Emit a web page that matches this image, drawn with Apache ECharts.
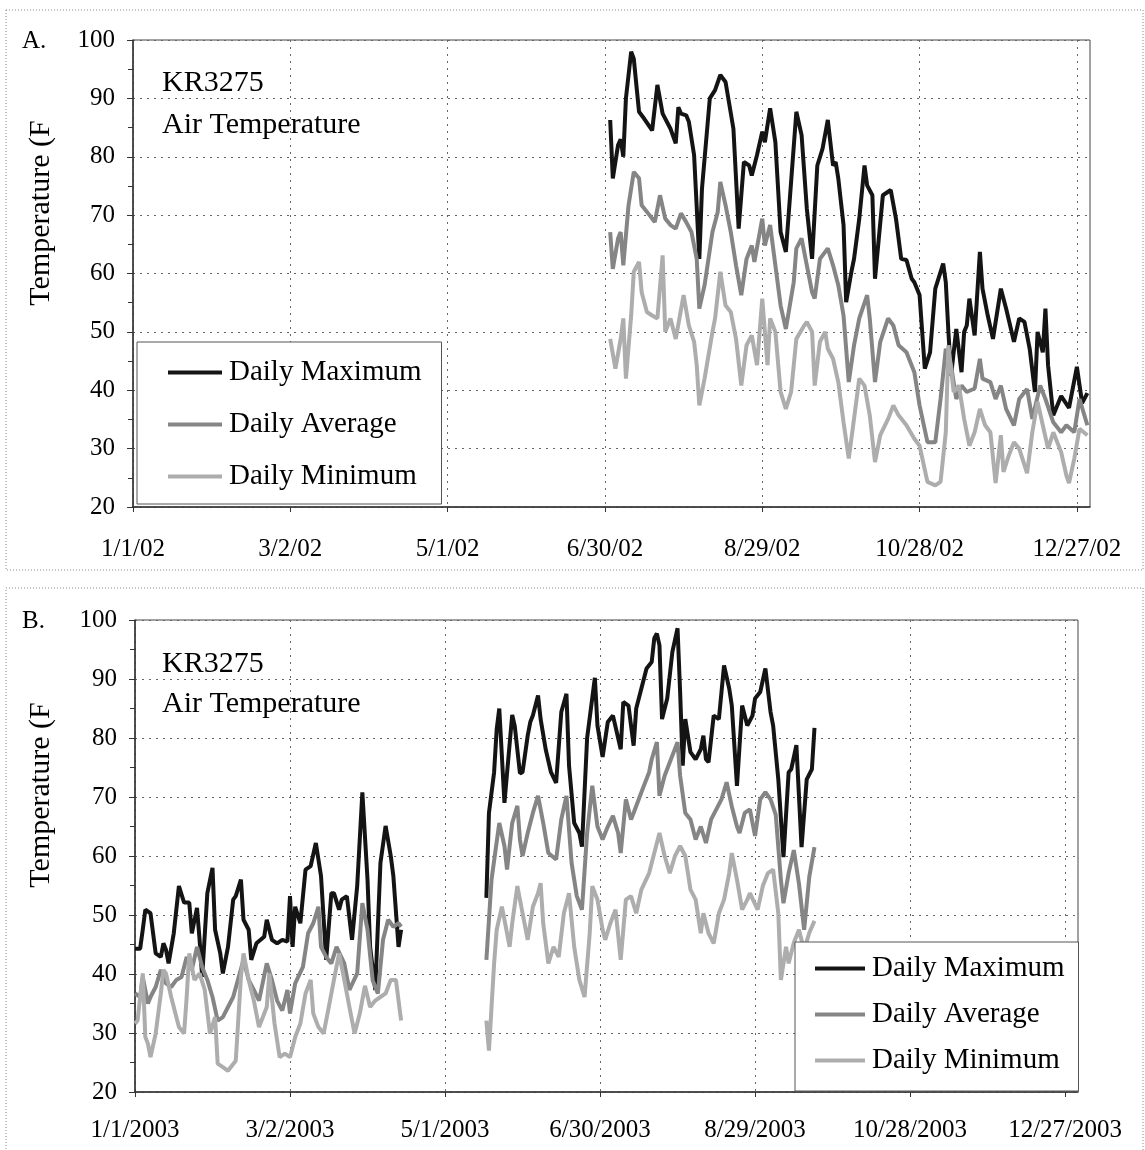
<!DOCTYPE html>
<html>
<head>
<meta charset="utf-8">
<script src="https://cdn.jsdelivr.net/npm/echarts@6/dist/echarts.min.js"></script>
<style>
  html, body { margin: 0; padding: 0; background: #fff; }
  #chart { width: 1145px; height: 1150px; }
</style>
</head>
<body>
<div id="chart"></div>
<script>
// day offsets from Jan 1 of each year, temperature in F
const seriesNames = ['Daily Maximum', 'Daily Average', 'Daily Minimum'];
const ticksA = ['1/1/02', '3/2/02', '5/1/02', '6/30/02', '8/29/02', '10/28/02', '12/27/02'];
const ticksB = ['1/1/2003', '3/2/2003', '5/1/2003', '6/30/2003', '8/29/2003', '10/28/2003', '12/27/2003'];

// A. 2002
const maxA = [[182,86.3],[183,76.3],[185,82],[186,83],[187,80],[188,90],[190,98],[191,96.8],[193,87.7],[195,86.5],[198,84.5],[200,92.3],[202,87.4],[205,84.8],[207,82.3],[208,88.5],[209,87.4],[211,87.1],[212,86],[214,80.3],[216,62.5],[217,74.5],[220,90],[222,91.4],[224,94],[226,92.8],[229,84.8],[231,67.7],[233,79.1],[235,78.5],[236,76.8],[238,80.3],[240,84.3],[241,82.5],[243,88.3],[245,82.5],[247,67.1],[249,63.7],[251,75.7],[253,87.7],[255,83.7],[257,71.1],[259,62.5],[261,78.5],[263,81.4],[265,86.3],[267,78.5],[268,79.1],[269,76.3],[271,68.3],[272,55.1],[274,60.3],[275,62.5],[277,69.4],[279,78.5],[280,75.1],[282,73.4],[283,59.1],[286,73.4],[288,74],[289,74.3],[291,69.4],[293,62.5],[295,62.3],[297,59.1],[298,58.5],[300,56.3],[302,43.7],[304,46.5],[306,57.4],[309,61.7],[310,58.5],[311,50],[312,42.5],[314,50.5],[316,43.1],[317,50],[318,51.1],[319,55.7],[321,49.4],[323,63.7],[324,57.4],[326,52.8],[328,48.8],[331,57.4],[333,54],[336,48.3],[338,52.3],[340,51.7],[342,47.1],[344,39.7],[345,50],[347,46.5],[348,54],[349,44.3],[351,35.7],[354,39],[357,37],[360,44],[362,37.8],[364,39.5]];
const avgA = [[182,67.1],[183,60.8],[185,66],[186,67.1],[187,61.4],[189,71.7],[191,77.4],[193,76.3],[194,71.7],[197,70],[199,68.8],[201,73.4],[203,69.4],[205,68.3],[207,67.7],[209,70.3],[211,68.8],[213,67.1],[215,62.5],[216,54],[218,58],[221,67.1],[223,70.5],[224,75.7],[226,71.7],[228,67.1],[230,61.4],[232,56.3],[234,62.5],[236,64.8],[237,62],[240,69.4],[241,64.8],[243,68.3],[245,61.4],[247,54.5],[249,50.5],[252,58.5],[253,64.3],[255,66],[257,61.4],[259,56.8],[260,55.7],[262,62.5],[264,63.7],[265,64.3],[267,61.4],[269,58],[271,52.8],[273,41.4],[275,47.7],[277,52.3],[280,56.3],[281,52.3],[283,41.4],[285,48.3],[288,52.3],[290,51.1],[292,47.7],[295,46.5],[298,43.1],[300,37.4],[303,31.1],[306,31.1],[308,38.5],[310,47.1],[312,44.3],[314,38.5],[316,40.8],[318,39.7],[321,40.3],[323,45.4],[324,42],[327,41.4],[329,38.5],[331,40.8],[333,36.8],[336,34],[338,38.5],[341,40.2],[343,35.1],[346,40.8],[348,38.5],[351,34.5],[354,32.8],[356,34],[359,32.8],[361,38.5],[364,34]];
const minA = [[182,48.8],[184,43.7],[186,48.8],[187,52.3],[188,42],[190,52.8],[191,60.3],[193,62],[194,56.8],[196,53.4],[198,52.8],[200,52.3],[202,63.1],[203,50],[205,52.3],[207,48.8],[210,56.3],[212,51.1],[214,48.3],[215,44.3],[216,37.4],[218,42],[221,50],[222,52.3],[224,60.3],[226,54.5],[228,53.4],[230,48.8],[232,40.8],[234,47.7],[236,49.4],[238,44.3],[240,55.7],[242,44.3],[243,52.3],[245,50],[247,39.7],[249,36.8],[251,39.7],[253,48.8],[256,51.1],[257,51.7],[259,50],[260,40.8],[262,48.3],[264,50],[265,47.1],[267,45.4],[269,41.4],[271,34.5],[273,28.3],[275,35.1],[277,42],[279,40.8],[281,35.7],[283,27.7],[285,32.3],[288,35.1],[290,37.4],[292,35.7],[295,34],[298,31.7],[300,30.5],[303,24.3],[306,23.7],[308,24.3],[310,32.8],[311,47.7],[313,39.7],[315,40.8],[317,35.1],[319,30.5],[321,32.8],[323,36.8],[325,34],[327,32.8],[329,24.1],[331,32.3],[332,26],[334,28.8],[336,31.1],[338,30],[341,25.8],[343,32.8],[345,38],[347,34],[349,30],[351,32.8],[354,29.4],[356,25.4],[357,24.1],[359,28.3],[361,33.4],[364,32.3]];

// B. 2003 (two logging periods)
const maxB1 = [[0,44.3],[2,44.3],[3,47.5],[4,50.9],[6,50.3],[7,46.9],[8,43.5],[10,42.9],[11,45.2],[12,44.1],[13,41.8],[15,46.9],[17,54.9],[19,52.1],[21,52.1],[22,46.9],[24,51.2],[25,45.8],[26,39.5],[28,53.7],[30,58],[31,47.5],[33,43.5],[34,40.1],[36,44.6],[38,52.6],[39,53.2],[41,56],[42,49.2],[44,47.5],[45,42.4],[47,45.2],[50,46.3],[51,49.2],[53,45.8],[55,45.2],[57,45.8],[59,45.5],[60,53.2],[61,44.6],[62,51.4],[64,48.6],[66,57.7],[68,58.3],[70,62.2],[72,56.6],[74,42.4],[76,53.7],[77,53.7],[79,50.9],[80,52.6],[82,53.2],[84,45.8],[86,54.9],[88,70.8],[90,56],[91,44.6],[93,37.3],[95,58.8],[97,65.1],[99,60],[100,56.6],[102,44.6],[103,47.5]];
const maxB2 = [[136,52.9],[137,67.3],[139,74.2],[140,81.5],[141,85],[143,69],[144,74],[146,83.9],[147,82],[149,74],[150,74.2],[152,80.4],[153,82.7],[154,83.8],[156,87.2],[157,83.2],[159,78],[161,74.2],[163,72.4],[165,84.4],[167,87.5],[168,75.3],[170,65.6],[172,63.9],[173,61.6],[175,80],[178,90.2],[179,82.1],[181,76.8],[183,82.7],[185,83.8],[188,78.1],[189,86.1],[191,85.5],[193,78.7],[194,85],[196,88.4],[198,91.8],[200,92.9],[201,96.9],[202,97.7],[203,95.7],[204,83.2],[206,86.7],[208,94.6],[210,98.6],[211,87.8],[212,75.3],[213,83.2],[215,77.6],[217,76.4],[219,78.1],[220,80.4],[221,76.4],[222,75.9],[224,83.8],[226,83.2],[228,92.3],[230,88.4],[231,85.5],[233,71.9],[235,85.5],[237,82.1],[239,83.8],[240,86.7],[242,87.8],[244,91.8],[246,84.4],[247,82.1],[249,73],[251,59.8],[253,74.2],[254,74.7],[256,78.8],[258,61.5],[260,73],[262,74.7],[263,81.7]];
const avgB1 = [[0,36.7],[2,36.1],[3,39.5],[5,35],[6,36.1],[8,37.8],[10,40.7],[12,38.4],[14,37.8],[16,39],[18,39.5],[20,42.9],[22,40.7],[24,44.6],[26,41.2],[28,39],[30,36.1],[32,32.1],[34,32.7],[36,34.4],[38,36.1],[42,42.4],[44,39],[46,37.3],[48,35.5],[51,41.8],[53,39],[55,35.5],[57,33.8],[59,37.3],[60,33.3],[62,38.4],[65,41.2],[67,46.9],[69,48.6],[71,51.4],[72,44.6],[74,42.9],[76,41.8],[78,44.6],[81,41.8],[83,37.3],[86,40.1],[88,52],[90,47.5],[92,38.9],[94,36.7],[96,45.8],[98,49.2],[100,48],[102,48.6],[103,48]];
const avgB2 = [[136,42.4],[138,56],[141,65.6],[143,61.7],[144,57.7],[146,65.6],[148,68.5],[149,62.8],[150,60],[152,63.9],[154,67.3],[156,70.2],[158,65.6],[160,60.5],[163,59.4],[165,66.2],[167,70.2],[169,58.8],[171,53.2],[173,50.9],[175,63.9],[177,71.9],[179,65],[181,62.8],[183,65],[185,66.8],[187,63.9],[188,60.5],[190,69.6],[192,66.2],[193,67.3],[196,70.8],[199,74.2],[200,76.4],[202,79.3],[203,70.2],[205,73.6],[207,75.9],[210,79.3],[211,73.6],[213,67.3],[215,66.2],[217,62.8],[219,65],[221,62.2],[223,66.2],[225,67.9],[227,69.6],[229,72.5],[231,68.4],[233,65],[234,63.9],[236,67.3],[238,67.9],[240,63.4],[242,69.6],[244,70.8],[246,69.6],[248,67],[250,56],[251,52],[253,57.1],[255,61],[257,55.3],[259,47.5],[261,56.5],[263,61.5]];
const minB1 = [[0,31.6],[1,32.1],[3,40.1],[4,29.3],[5,28.2],[6,25.9],[8,29.9],[10,36.7],[11,40.7],[12,40.1],[14,36.1],[17,31],[19,29.9],[20,36.1],[21,43.5],[23,39],[25,40.1],[27,37.3],[29,29.9],[31,32.7],[32,24.8],[34,24.2],[36,23.6],[39,25.3],[41,39.5],[42,43.5],[44,39],[46,35.5],[48,31],[51,34.4],[52,40.1],[54,31.6],[56,25.9],[58,26.5],[60,25.9],[62,29.3],[64,31.6],[66,36.7],[68,39],[69,33.3],[71,31],[73,29.9],[75,34.4],[77,39],[79,43.5],[81,39],[83,34.4],[85,29.9],[87,33.3],[89,38],[91,34.4],[93,35.5],[95,36.1],[97,36.7],[99,39],[101,39],[103,32.1]];
const minB2 = [[136,32.1],[137,27],[138,34.4],[139,41.8],[140,47.5],[142,51.4],[143,49.2],[145,44.6],[146,48.6],[148,54.9],[150,50.3],[152,45.8],[154,51.4],[156,53.7],[157,55.4],[158,48.6],[160,41.8],[162,44.6],[164,42.9],[166,50.3],[168,53.7],[170,44.6],[172,39],[174,36.1],[176,46.9],[177,54.9],[179,52.6],[181,47.5],[182,45.8],[184,48.6],[186,50.9],[188,42.4],[190,52.6],[192,53.2],[194,50.3],[196,54.3],[199,57.1],[201,60.5],[203,63.9],[205,60],[207,57.1],[209,60],[211,61.7],[213,60],[215,54.3],[217,52.6],[219,46.9],[220,50.3],[222,46.9],[224,45.2],[226,50.3],[228,52.6],[230,57.1],[231,60.5],[233,56],[235,50.9],[237,52.6],[238,53.7],[241,50.9],[243,54.9],[245,57.1],[247,57.7],[249,50.3],[250,39],[252,44.6],[253,41.8],[255,45.3],[257,47.5],[259,44],[261,47],[263,49]];

const FONT = '"Liberation Serif", "Times New Roman", serif';
const colors = ['#141414', '#858585', '#adadad'];
const gridLine = { color: '#666', type: [2, 5], width: 1 };
const labelDays = [0, 60, 120, 180, 240, 300, 360];

// break the line where the logger had no record
function gap(a, b) {
  return a.concat([[120, null]], b);
}

function makeX(gridIndex, labels, margin) {
  return {
    type: 'value', gridIndex: gridIndex, min: 0, max: 365, interval: 30,
    axisLine: { show: true, onZero: false, lineStyle: { color: '#333', width: 1.5 } },
    axisTick: { show: true, customValues: labelDays, length: 5, lineStyle: { color: '#333' } },
    axisLabel: {
      customValues: labelDays,
      formatter: function (v) { return labels[Math.round(v / 60)] || ''; },
      color: '#000', fontFamily: FONT, fontSize: 25, margin: margin
    },
    splitLine: { show: true, lineStyle: gridLine }
  };
}

function makeY(gridIndex) {
  return {
    type: 'value', gridIndex: gridIndex, min: 20, max: 100, interval: 10,
    axisLine: { show: true, lineStyle: { color: '#333', width: 1.5 } },
    axisTick: { show: true, length: 6, lineStyle: { color: '#333' } },
    minorTick: { show: true, splitNumber: 2, length: 5, lineStyle: { color: '#333' } },
    axisLabel: { color: '#000', fontFamily: FONT, fontSize: 25, margin: 18 },
    splitLine: { show: true, lineStyle: gridLine }
  };
}

function makeLegend(left, top, gapY, pad, lineW) {
  return {
    orient: 'vertical', left: left, top: top,
    data: seriesNames, selectedMode: false,
    icon: 'rect', itemWidth: lineW, itemHeight: 4, itemGap: gapY,
    padding: pad,
    backgroundColor: '#fff', borderColor: '#555', borderWidth: 1,
    textStyle: { fontFamily: FONT, fontSize: 29, color: '#000', padding: [0, 0, 0, 2] }
  };
}

function line(name, idx, data, color) {
  return {
    name: name, type: 'line', xAxisIndex: idx, yAxisIndex: idx,
    data: data, showSymbol: false, symbol: 'none', connectNulls: false,
    lineStyle: { color: color, width: 4 }, itemStyle: { color: color },
    animation: false
  };
}

function label(text, x, y, size, rot) {
  return {
    type: 'text', x: x, y: y, rotation: rot || 0, silent: true,
    style: {
      text: text, fill: '#000', font: size + 'px ' + FONT,
      textAlign: rot ? 'center' : 'left', textVerticalAlign: 'middle'
    }
  };
}

const chart = echarts.init(document.getElementById('chart'));
chart.setOption({
  backgroundColor: '#fff',
  animation: false,
  grid: [
    { left: 133, top: 40, width: 957, height: 467, show: true, borderColor: '#444', borderWidth: 1 },
    { left: 135, top: 620, width: 943, height: 472, show: true, borderColor: '#444', borderWidth: 1 }
  ],
  xAxis: [makeX(0, ticksA, 30), makeX(1, ticksB, 26)],
  yAxis: [makeY(0), makeY(1)],
  legend: [
    makeLegend(137, 342, 23, [16, 20, 13, 31], 54),
    makeLegend(795, 942, 17, [12, 14, 16, 20], 50)
  ],
  graphic: [
    { type: 'rect', silent: true, z: -1, shape: { x: 6, y: 10, width: 1137, height: 560 },
      style: { fill: 'none', stroke: '#888', lineWidth: 1, lineDash: [1, 2] } },
    { type: 'rect', silent: true, z: -1, shape: { x: 6, y: 588, width: 1137, height: 600 },
      style: { fill: 'none', stroke: '#888', lineWidth: 1, lineDash: [1, 2] } },
    label('A.', 22, 41, 25),
    label('B.', 22, 621, 25),
    label('KR3275', 162, 83, 30),
    label('Air Temperature', 162, 125, 30),
    label('KR3275', 162, 664, 30),
    label('Air Temperature', 162, 704, 30),
    label('Temperature (F', 41, 213, 30, Math.PI / 2),
    label('Temperature (F', 41, 795, 30, Math.PI / 2)
  ],
  series: [
    line(seriesNames[0], 0, maxA, colors[0]),
    line(seriesNames[1], 0, avgA, colors[1]),
    line(seriesNames[2], 0, minA, colors[2]),
    line(seriesNames[0], 1, gap(maxB1, maxB2), colors[0]),
    line(seriesNames[1], 1, gap(avgB1, avgB2), colors[1]),
    line(seriesNames[2], 1, gap(minB1, minB2), colors[2])
  ]
});
</script>
</body>
</html>
